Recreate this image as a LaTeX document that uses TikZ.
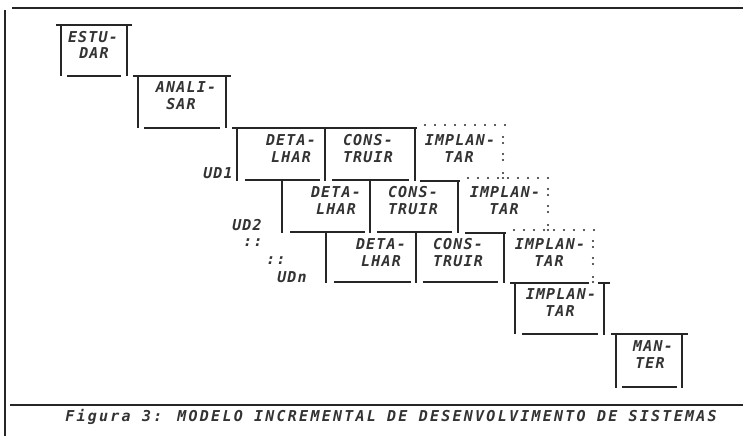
\documentclass[tikz,border=0pt]{standalone}
\usepackage{fontspec}
\newfontfamily\tw{DejaVu Sans Mono}[LetterSpace=8]
\newfontfamily\twcap{DejaVu Sans Mono}[LetterSpace=15]
\begin{document}
\begin{tikzpicture}[x=1pt,y=-1pt,
  ln/.style={line width=1.7pt, draw=black!85, line cap=butt},
  lab/.style={font=\tw\bfseries\itshape\fontsize{15}{15}\selectfont, inner sep=0pt, text=black!80},
  captext/.style={font=\twcap\bfseries\itshape\fontsize{15}{15}\selectfont, inner sep=0pt, text=black!80},
  dotc/.style={fill=black!85}]
\useasboundingbox (0,0) rectangle (743,436);
% frame
\draw[ln] (5,10) -- (5,436);
\draw[ln] (12,8) -- (743,8);
\draw[ln] (10,405) -- (743,405);
\node[captext] (caption) at (391,417) {Figura 3: MODELO INCREMENTAL DE DESENVOLVIMENTO DE SISTEMAS};
% ESTUDAR
\draw[ln] (56,25) -- (132,25);
\draw[ln] (61,25) -- (61,76);
\draw[ln] (127,25) -- (127,76);
\draw[ln] (67,76) -- (121,76);
\node[lab] (est1) at (93,37) {ESTU-};
\node[lab] (est2) at (94,53) {DAR};
% ANALISAR
\draw[ln] (133,76) -- (231,76);
\draw[ln] (138,76) -- (138,128);
\draw[ln] (226,76) -- (226,128);
\draw[ln] (144,128) -- (220,128);
\node[lab] (ana1) at (186,87) {ANALI-};
\node[lab] (ana2) at (181,104) {SAR};
% incremental rows: L/T/B/d1/d2/R/topstart/ty
\foreach \L/\T/\B/\da/\db/\R/\ts/\ty/\dx [count=\k] in
  {237/128/180/325/415/503/232/140/0,
   282/181/232/370/458/548/420/192/45,
   326/233/282/416/504/593/465/244/90}{
  \draw[ln] (\ts,\T) -- (\db+2,\T);
  \draw[ln] (\L,\T) -- (\L,\B+1);
  \draw[ln] (\da,\T) -- (\da,\B+1);
  \draw[ln] (\db,\T) -- (\db,\B+1);
  \draw[ln] (\L+8,\B) -- (\da-5,\B);
  \draw[ln] (\da+7,\B) -- (\db-6,\B);
  \foreach \j in {0,...,8}
    \fill[dotc] (\db+10+\j*10,\T-3) circle (1.1pt);
  \foreach \yy in {-3,3,14,20,33,38}
    \fill[dotc] (\R,\ty+\yy) circle (1.1pt);
  \node[lab] (deta\k) at (291+\dx,\ty) {DETA-};
  \node[lab] (lhar\k) at (291+\dx,\ty+17) {LHAR};
  \node[lab] (cons\k) at (368+\dx,\ty) {CONS-};
  \node[lab] (truir\k) at (368+\dx,\ty+17) {TRUIR};
  \node[lab] (impl\k) at (460+\dx,\ty) {IMPLAN-};
  \node[lab] (tar\k) at (459+\dx,\ty+17) {TAR};
}
% row labels
\node[lab] (ud1) at (218,173) {UD1};
\node[lab] (ud2) at (247,225) {UD2};
\node[lab] (dd1) at (253,243) {::};
\node[lab] (dd2) at (276,261) {::};
\node[lab] (udn) at (292,277) {UDn};
% final IMPLANTAR
\draw[ln] (510,283) -- (589,283);
\draw[ln] (598,283) -- (610,283);
\draw[ln] (515,283) -- (515,334);
\draw[ln] (604,283) -- (604,335);
\draw[ln] (522,334) -- (598,334);
\node[lab] (fimp1) at (561,294) {IMPLAN-};
\node[lab] (fimp2) at (560,311) {TAR};
% MANTER
\draw[ln] (611,334) -- (688,334);
\draw[ln] (616,334) -- (616,388);
\draw[ln] (682,334) -- (682,388);
\draw[ln] (622,387) -- (677,387);
\node[lab] (man1) at (653,346) {MAN-};
\node[lab] (man2) at (650,363) {TER};
\end{tikzpicture}
\end{document}
